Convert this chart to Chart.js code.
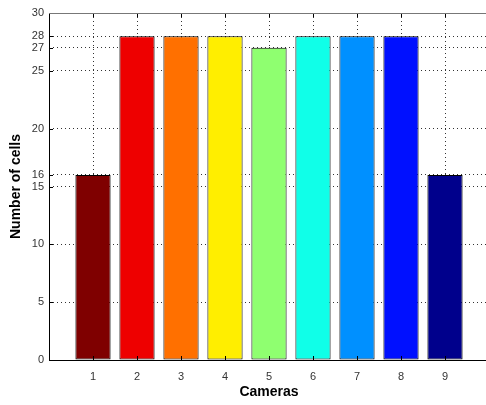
<!DOCTYPE html>
<html>
<head>
<meta charset="utf-8">
<script src="https://cdn.jsdelivr.net/npm/chart.js@4"></script>
<style>
  html, body { margin: 0; padding: 0; background: #fff; overflow: hidden; }
  #wrap { width: 492px; height: 405px; }
</style>
</head>
<body>
<div id="wrap"><canvas id="chart" width="492" height="405"></canvas></div>
<script>
const cameras = [1, 2, 3, 4, 5, 6, 7, 8, 9];
const cellCounts = [16, 28, 28, 28, 27, 28, 28, 28, 16];
const barColors = ['#7f0000', '#ee0000', '#ff7000', '#ffee00', '#8fff70', '#10ffe8', '#0090ff', '#0010ff', '#00008c'];
const yTicks = [0, 5, 10, 15, 16, 20, 25, 27, 28, 30];

// inward tick marks and the axes box, matlab style
const boxPlugin = {
    id: 'box',
    afterDraw(chart) {
        const { ctx, chartArea: a, scales } = chart;
        ctx.save();
        ctx.strokeStyle = '#000';
        ctx.lineWidth = 1;
        ctx.beginPath();
        cameras.forEach(c => {
            const x = Math.round(scales.x.getPixelForValue(c)) + 0.5;
            ctx.moveTo(x, a.bottom); ctx.lineTo(x, a.bottom - 4);
            ctx.moveTo(x, a.top); ctx.lineTo(x, a.top + 4);
        });
        yTicks.forEach(t => {
            const y = Math.round(scales.y.getPixelForValue(t)) + 0.5;
            ctx.moveTo(a.left, y); ctx.lineTo(a.left + 4, y);
        });
        ctx.stroke();
        ctx.beginPath();
        ctx.moveTo(Math.round(a.left) + 0.5, a.top);
        ctx.lineTo(Math.round(a.left) + 0.5, Math.round(a.bottom) + 0.5);
        ctx.lineTo(a.right, Math.round(a.bottom) + 0.5);
        ctx.stroke();
        ctx.strokeStyle = '#777';
        ctx.beginPath();
        ctx.moveTo(a.left, Math.round(a.top) + 0.5);
        ctx.lineTo(a.right, Math.round(a.top) + 0.5);
        ctx.stroke();
        ctx.restore();
    }
};

new Chart(document.getElementById('chart'), {
    type: 'bar',
    data: {
        datasets: [{
            data: cameras.map((c, i) => ({ x: c, y: cellCounts[i] })),
            backgroundColor: barColors,
            borderColor: '#000',
            borderWidth: 1,
            borderSkipped: false,
            inflateAmount: 0,
            barPercentage: 0.8,
            categoryPercentage: 1
        }]
    },
    options: {
        responsive: false,
        animation: false,
        layout: { padding: { top: 13, right: 3, left: 8, bottom: 0 } },
        plugins: { legend: { display: false }, tooltip: { enabled: false } },
        scales: {
            x: {
                type: 'linear',
                min: 0,
                max: 10,
                offset: false,
                afterBuildTicks: s => { s.ticks = cameras.map(v => ({ value: v })); },
                afterFit: s => { s.height = 45; },
                border: { display: false, dash: [1, 3] },
                grid: { color: '#333', drawTicks: false, offset: false },
                ticks: { color: '#333', padding: 10, font: { family: 'Liberation Sans', size: 11 } },
                title: { display: true, text: 'Cameras', color: '#000', padding: { top: 4 }, font: { family: 'Liberation Sans', size: 14, weight: 'bold' } }
            },
            y: {
                min: 0,
                max: 30,
                afterBuildTicks: s => { s.ticks = yTicks.map(v => ({ value: v })); },
                afterFit: s => { s.width = 41; },
                border: { display: false, dash: [1, 3] },
                grid: { color: '#333', drawTicks: false },
                ticks: { autoSkip: false, color: '#333', padding: 5, font: { family: 'Liberation Sans', size: 11 } },
                title: { display: true, text: 'Number of cells', color: '#000', padding: 0, font: { family: 'Liberation Sans', size: 14, weight: 'bold' } }
            }
        }
    },
    plugins: [boxPlugin]
});
</script>
</body>
</html>
